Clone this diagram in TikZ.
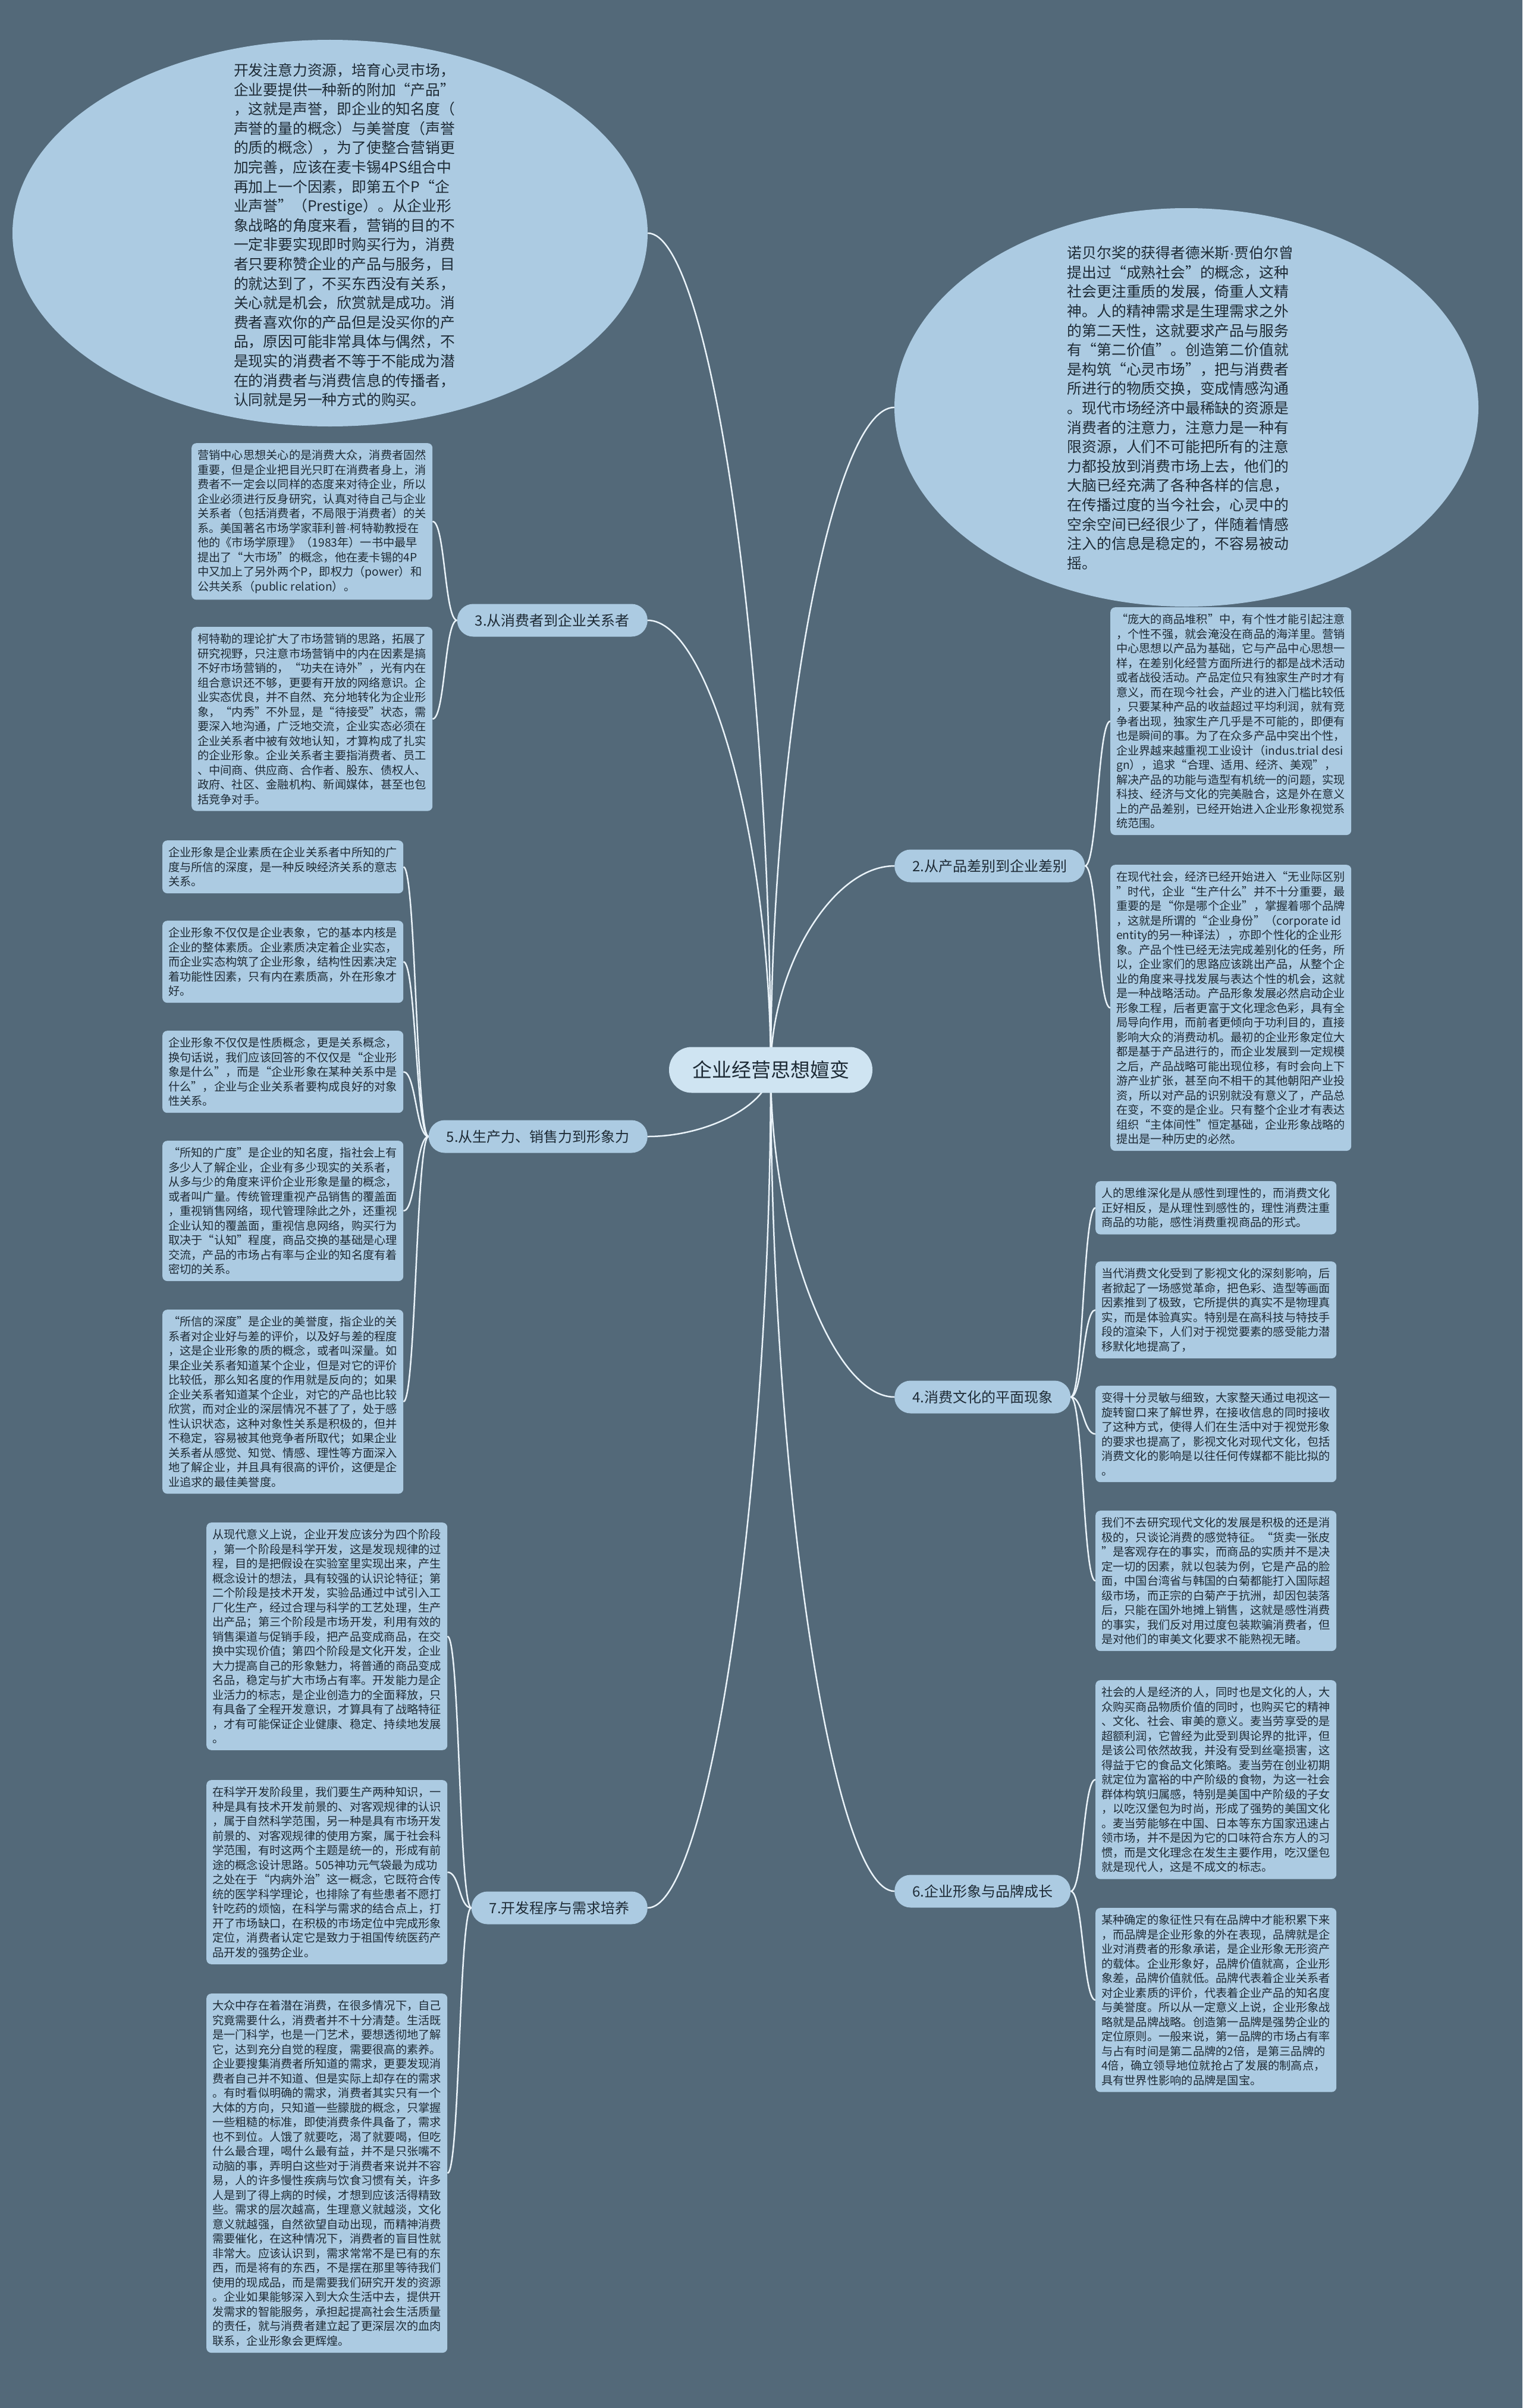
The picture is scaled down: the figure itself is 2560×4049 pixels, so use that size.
\documentclass[tikz,border=0pt]{standalone}
\usepackage{fontspec}
\setmainfont{Noto Sans CJK SC}
\newfontfamily\dotfont{Liberation Sans}
\usetikzlibrary{shapes.geometric,calc,backgrounds}

\definecolor{bgslate}{HTML}{536979}
\definecolor{leafblue}{HTML}{ACCBE2}
\definecolor{rootblue}{HTML}{CFE4F2}
\definecolor{inkgray}{HTML}{1E2B36}
\definecolor{linkwhite}{HTML}{EAF3F9}

\begin{document}
\begin{tikzpicture}[x=1pt,y=-1pt,
  leaf/.style={fill=leafblue,rounded corners=8pt,align=left,anchor=north west,
    inner xsep=10pt,inner ysep=11pt,minimum width=405pt,text=inkgray,
    font=\fontsize{19.25}{24.5}\selectfont},
  topic/.style={fill=leafblue,rounded corners=27pt,inner xsep=30pt,
    minimum height=55pt,text=inkgray,font=\fontsize{24}{28}\selectfont},
  root/.style={fill=rootblue,rounded corners=38pt,minimum width=342pt,
    minimum height=77pt,text=inkgray,font=\fontsize{33}{38}\selectfont},
  cloud/.style={ellipse,fill=leafblue,inner sep=0pt},
  cloudtext/.style={align=left,text=inkgray,font=\fontsize{24.8}{32.6}\selectfont},
  link/.style={draw=linkwhite,line width=2.5pt}]

\useasboundingbox (0,0) rectangle (2560,4049);

% centre and main topics
\node[root] (root) at (1296,1799) {企业经营思想嬗变};
\node[topic,anchor=east] (b3) at (1089,1043) {3.从消费者到企业关系者};
\node[topic,anchor=west] (b2) at (1504,1456) {2.从产品差别到企业差别};
\node[topic,anchor=east] (b5) at (1089,1911) {5.从生产力、销售力到形象力};
\node[topic,anchor=west] (b4) at (1504,2349) {4.消费文化的平面现象};
\node[topic,anchor=west] (b6) at (1504,3180) {6.企业形象与品牌成长};
\node[topic,anchor=east] (b7) at (1089,3208) {7.开发程序与需求培养};

% the two ellipses
\node[cloud,minimum width=1068pt,minimum height=650pt] (e1) at (555,392) {};
\node[cloudtext] (e1t) at (579,395) {开发注意力资源，培育心灵市场，\\
企业要提供一种新的附加“产品”\\
，这就是声誉，即企业的知名度（\\
声誉的量的概念）与美誉度（声誉\\
的质的概念），为了使整合营销更\\
加完善，应该在麦卡锡4PS组合中\\
再加上一个因素，即第五个P“企\\
业声誉”（Prestige）。从企业形\\
象战略的角度来看，营销的目的不\\
一定非要实现即时购买行为，消费\\
者只要称赞企业的产品与服务，目\\
的就达到了，不买东西没有关系，\\
关心就是机会，欣赏就是成功。消\\
费者喜欢你的产品但是没买你的产\\
品，原因可能非常具体与偶然，不\\
是现实的消费者不等于不能成为潜\\
在的消费者与消费信息的传播者，\\
认同就是另一种方式的购买。};

\node[cloud,minimum width=982pt,minimum height=670pt] (e2) at (1995,685) {};
\node[cloudtext] (e2t) at (1985,686) {诺贝尔奖的获得者德米斯{\dotfont ·}贾伯尔曾\\
提出过“成熟社会”的概念，这种\\
社会更注重质的发展，倚重人文精\\
神。人的精神需求是生理需求之外\\
的第二天性，这就要求产品与服务\\
有“第二价值”。创造第二价值就\\
是构筑“心灵市场”，把与消费者\\
所进行的物质交换，变成情感沟通\\
。现代市场经济中最稀缺的资源是\\
消费者的注意力，注意力是一种有\\
限资源，人们不可能把所有的注意\\
力都投放到消费市场上去，他们的\\
大脑已经充满了各种各样的信息，\\
在传播过度的当今社会，心灵中的\\
空余空间已经很少了，伴随着情感\\
注入的信息是稳定的，不容易被动\\
摇。};

% branch 3
\node[leaf] (l3a) at (322,745) {营销中心思想关心的是消费大众，消费者固然\\
重要，但是企业把目光只盯在消费者身上，消\\
费者不一定会以同样的态度来对待企业，所以\\
企业必须进行反身研究，认真对待自己与企业\\
关系者（包括消费者，不局限于消费者）的关\\
系。美国著名市场学家菲利普{\dotfont ·}柯特勒教授在\\
他的《市场学原理》（1983年）一书中最早\\
提出了“大市场”的概念，他在麦卡锡的4P\\
中又加上了另外两个P，即权力（power）和\\
公共关系（public relation）。};
\node[leaf] (l3b) at (322,1054) {柯特勒的理论扩大了市场营销的思路，拓展了\\
研究视野，只注意市场营销中的内在因素是搞\\
不好市场营销的，“功夫在诗外”，光有内在\\
组合意识还不够，更要有开放的网络意识。企\\
业实态优良，并不自然、充分地转化为企业形\\
象，“内秀”不外显，是“待接受”状态，需\\
要深入地沟通，广泛地交流，企业实态必须在\\
企业关系者中被有效地认知，才算构成了扎实\\
的企业形象。企业关系者主要指消费者、员工\\
、中间商、供应商、合作者、股东、债权人、\\
政府、社区、金融机构、新闻媒体，甚至也包\\
括竞争对手。};

% branch 2
\node[leaf] (l2a) at (1867,1021) {“庞大的商品堆积”中，有个性才能引起注意\\
，个性不强，就会淹没在商品的海洋里。营销\\
中心思想以产品为基础，它与产品中心思想一\\
样，在差别化经营方面所进行的都是战术活动\\
或者战役活动。产品定位只有独家生产时才有\\
意义，而在现今社会，产业的进入门槛比较低\\
，只要某种产品的收益超过平均利润，就有竞\\
争者出现，独家生产几乎是不可能的，即便有\\
也是瞬间的事。为了在众多产品中突出个性，\\
企业界越来越重视工业设计（indus.trial desi\\
gn），追求“合理、适用、经济、美观”，\\
解决产品的功能与造型有机统一的问题，实现\\
科技、经济与文化的完美融合，这是外在意义\\
上的产品差别，已经开始进入企业形象视觉系\\
统范围。};
\node[leaf] (l2b) at (1867,1454) {在现代社会，经济已经开始进入“无业际区别\\
”时代，企业“生产什么”并不十分重要，最\\
重要的是“你是哪个企业”，掌握着哪个品牌\\
，这就是所谓的“企业身份”（corporate id\\
entity的另一种译法），亦即个性化的企业形\\
象。产品个性已经无法完成差别化的任务，所\\
以，企业家们的思路应该跳出产品，从整个企\\
业的角度来寻找发展与表达个性的机会，这就\\
是一种战略活动。产品形象发展必然启动企业\\
形象工程，后者更富于文化理念色彩，具有全\\
局导向作用，而前者更倾向于功利目的，直接\\
影响大众的消费动机。最初的企业形象定位大\\
都是基于产品进行的，而企业发展到一定规模\\
之后，产品战略可能出现位移，有时会向上下\\
游产业扩张，甚至向不相干的其他朝阳产业投\\
资，所以对产品的识别就没有意义了，产品总\\
在变，不变的是企业。只有整个企业才有表达\\
组织“主体间性”恒定基础，企业形象战略的\\
提出是一种历史的必然。};

% branch 5
\node[leaf] (l5a) at (273,1413) {企业形象是企业素质在企业关系者中所知的广\\
度与所信的深度，是一种反映经济关系的意志\\
关系。};
\node[leaf] (l5b) at (273,1548) {企业形象不仅仅是企业表象，它的基本内核是\\
企业的整体素质。企业素质决定着企业实态，\\
而企业实态构筑了企业形象，结构性因素决定\\
着功能性因素，只有内在素质高，外在形象才\\
好。};
\node[leaf] (l5c) at (273,1733) {企业形象不仅仅是性质概念，更是关系概念，\\
换句话说，我们应该回答的不仅仅是“企业形\\
象是什么”，而是“企业形象在某种关系中是\\
什么”，企业与企业关系者要构成良好的对象\\
性关系。};
\node[leaf] (l5d) at (273,1918) {“所知的广度”是企业的知名度，指社会上有\\
多少人了解企业，企业有多少现实的关系者，\\
从多与少的角度来评价企业形象是量的概念，\\
或者叫广量。传统管理重视产品销售的覆盖面\\
，重视销售网络，现代管理除此之外，还重视\\
企业认知的覆盖面，重视信息网络，购买行为\\
取决于“认知”程度，商品交换的基础是心理\\
交流，产品的市场占有率与企业的知名度有着\\
密切的关系。};
\node[leaf] (l5e) at (273,2202) {“所信的深度”是企业的美誉度，指企业的关\\
系者对企业好与差的评价，以及好与差的程度\\
，这是企业形象的质的概念，或者叫深量。如\\
果企业关系者知道某个企业，但是对它的评价\\
比较低，那么知名度的作用就是反向的；如果\\
企业关系者知道某个企业，对它的产品也比较\\
欣赏，而对企业的深层情况不甚了了，处于感\\
性认识状态，这种对象性关系是积极的，但并\\
不稳定，容易被其他竞争者所取代；如果企业\\
关系者从感觉、知觉、情感、理性等方面深入\\
地了解企业，并且具有很高的评价，这便是企\\
业追求的最佳美誉度。};

% branch 4
\node[leaf] (l4a) at (1842,1986) {人的思维深化是从感性到理性的，而消费文化\\
正好相反，是从理性到感性的，理性消费注重\\
商品的功能，感性消费重视商品的形式。};
\node[leaf] (l4b) at (1842,2121) {当代消费文化受到了影视文化的深刻影响，后\\
者掀起了一场感觉革命，把色彩、造型等画面\\
因素推到了极致，它所提供的真实不是物理真\\
实，而是体验真实。特别是在高科技与特技手\\
段的渲染下，人们对于视觉要素的感受能力潜\\
移默化地提高了，};
\node[leaf] (l4c) at (1842,2330) {变得十分灵敏与细致，大家整天通过电视这一\\
旋转窗口来了解世界，在接收信息的同时接收\\
了这种方式，使得人们在生活中对于视觉形象\\
的要求也提高了，影视文化对现代文化，包括\\
消费文化的影响是以往任何传媒都不能比拟的\\
。};
\node[leaf] (l4d) at (1842,2540) {我们不去研究现代文化的发展是积极的还是消\\
极的，只谈论消费的感觉特征。“货卖一张皮\\
”是客观存在的事实，而商品的实质并不是决\\
定一切的因素，就以包装为例，它是产品的脸\\
面，中国台湾省与韩国的白菊都能打入国际超\\
级市场，而正宗的白菊产于抗洲，却因包装落\\
后，只能在国外地摊上销售，这就是感性消费\\
的事实，我们反对用过度包装欺骗消费者，但\\
是对他们的审美文化要求不能熟视无睹。};

% branch 6
\node[leaf] (l6a) at (1842,2825) {社会的人是经济的人，同时也是文化的人，大\\
众购买商品物质价值的同时，也购买它的精神\\
、文化、社会、审美的意义。麦当劳享受的是\\
超额利润，它曾经为此受到舆论界的批评，但\\
是该公司依然故我，并没有受到丝毫损害，这\\
得益于它的食品文化策略。麦当劳在创业初期\\
就定位为富裕的中产阶级的食物，为这一社会\\
群体构筑归属感，特别是美国中产阶级的子女\\
，以吃汉堡包为时尚，形成了强势的美国文化\\
。麦当劳能够在中国、日本等东方国家迅速占\\
领市场，并不是因为它的口味符合东方人的习\\
惯，而是文化理念在发生主要作用，吃汉堡包\\
就是现代人，这是不成文的标志。};
\node[leaf] (l6b) at (1842,3208) {某种确定的象征性只有在品牌中才能积累下来\\
，而品牌是企业形象的外在表现，品牌就是企\\
业对消费者的形象承诺，是企业形象无形资产\\
的载体。企业形象好，品牌价值就高，企业形\\
象差，品牌价值就低。品牌代表着企业关系者\\
对企业素质的评价，代表着企业产品的知名度\\
与美誉度。所以从一定意义上说，企业形象战\\
略就是品牌战略。创造第一品牌是强势企业的\\
定位原则。一般来说，第一品牌的市场占有率\\
与占有时间是第二品牌的2倍，是第三品牌的\\
4倍，确立领导地位就抢占了发展的制高点，\\
具有世界性影响的品牌是国宝。};

% branch 7
\node[leaf] (l7a) at (347,2560) {从现代意义上说，企业开发应该分为四个阶段\\
，第一个阶段是科学开发，这是发现规律的过\\
程，目的是把假设在实验室里实现出来，产生\\
概念设计的想法，具有较强的认识论特征；第\\
二个阶段是技术开发，实验品通过中试引入工\\
厂化生产，经过合理与科学的工艺处理，生产\\
出产品；第三个阶段是市场开发，利用有效的\\
销售渠道与促销手段，把产品变成商品，在交\\
换中实现价值；第四个阶段是文化开发，企业\\
大力提高自己的形象魅力，将普通的商品变成\\
名品，稳定与扩大市场占有率。开发能力是企\\
业活力的标志，是企业创造力的全面释放，只\\
有具备了全程开发意识，才算具有了战略特征\\
，才有可能保证企业健康、稳定、持续地发展\\
。};
\node[leaf] (l7b) at (347,2993) {在科学开发阶段里，我们要生产两种知识，一\\
种是具有技术开发前景的、对客观规律的认识\\
，属于自然科学范围，另一种是具有市场开发\\
前景的、对客观规律的使用方案，属于社会科\\
学范围，有时这两个主题是统一的，形成有前\\
途的概念设计思路。505神功元气袋最为成功\\
之处在于“内病外治”这一概念，它既符合传\\
统的医学科学理论，也排除了有些患者不愿打\\
针吃药的烦恼，在科学与需求的结合点上，打\\
开了市场缺口，在积极的市场定位中完成形象\\
定位，消费者认定它是致力于祖国传统医药产\\
品开发的强势企业。};
\node[leaf] (l7c) at (347,3352) {大众中存在着潜在消费，在很多情况下，自己\\
究竟需要什么，消费者并不十分清楚。生活既\\
是一门科学，也是一门艺术，要想透彻地了解\\
它，达到充分自觉的程度，需要很高的素养。\\
企业要搜集消费者所知道的需求，更要发现消\\
费者自己并不知道、但是实际上却存在的需求\\
。有时看似明确的需求，消费者其实只有一个\\
大体的方向，只知道一些朦胧的概念，只掌握\\
一些粗糙的标准，即使消费条件具备了，需求\\
也不到位。人饿了就要吃，渴了就要喝，但吃\\
什么最合理，喝什么最有益，并不是只张嘴不\\
动脑的事，弄明白这些对于消费者来说并不容\\
易，人的许多慢性疾病与饮食习惯有关，许多\\
人是到了得上病的时候，才想到应该活得精致\\
些。需求的层次越高，生理意义就越淡，文化\\
意义就越强，自然欲望自动出现，而精神消费\\
需要催化，在这种情况下，消费者的盲目性就\\
非常大。应该认识到，需求常常不是已有的东\\
西，而是将有的东西，不是摆在那里等待我们\\
使用的现成品，而是需要我们研究开发的资源\\
。企业如果能够深入到大众生活中去，提供开\\
发需求的智能服务，承担起提高社会生活质量\\
的责任，就与消费者建立起了更深层次的血肉\\
联系，企业形象会更辉煌。};

% background and connectors
\begin{scope}[on background layer]
\fill[bgslate] (0,0) rectangle (2560,4049);
\foreach \t/\a in {e1/east,b3/east,b5/east,b7/east,e2/west,b2/west,b4/west,b6/west}{
  \coordinate (m) at ($(root.center)!.5!(\t.\a)$);
  \draw[link] (root.center) .. controls (root.center |- m) and (m |- \t.\a) .. (\t.\a);
}
\foreach \l in {l3a,l3b}
  \draw[link] (b3.west) .. controls +(-21,0) and +(21,0) .. (\l.east);
\foreach \l in {l5a,l5b,l5c,l5d,l5e}
  \draw[link] (b5.west) .. controls +(-21,0) and +(21,0) .. (\l.east);
\foreach \l in {l7a,l7b,l7c}
  \draw[link] (b7.west) .. controls +(-21,0) and +(21,0) .. (\l.east);
\foreach \l in {l2a,l2b}
  \draw[link] (b2.east) .. controls +(21,0) and +(-21,0) .. (\l.west);
\foreach \l in {l4a,l4b,l4c,l4d}
  \draw[link] (b4.east) .. controls +(21,0) and +(-21,0) .. (\l.west);
\foreach \l in {l6a,l6b}
  \draw[link] (b6.east) .. controls +(21,0) and +(-21,0) .. (\l.west);
\end{scope}
\end{tikzpicture}
\end{document}
